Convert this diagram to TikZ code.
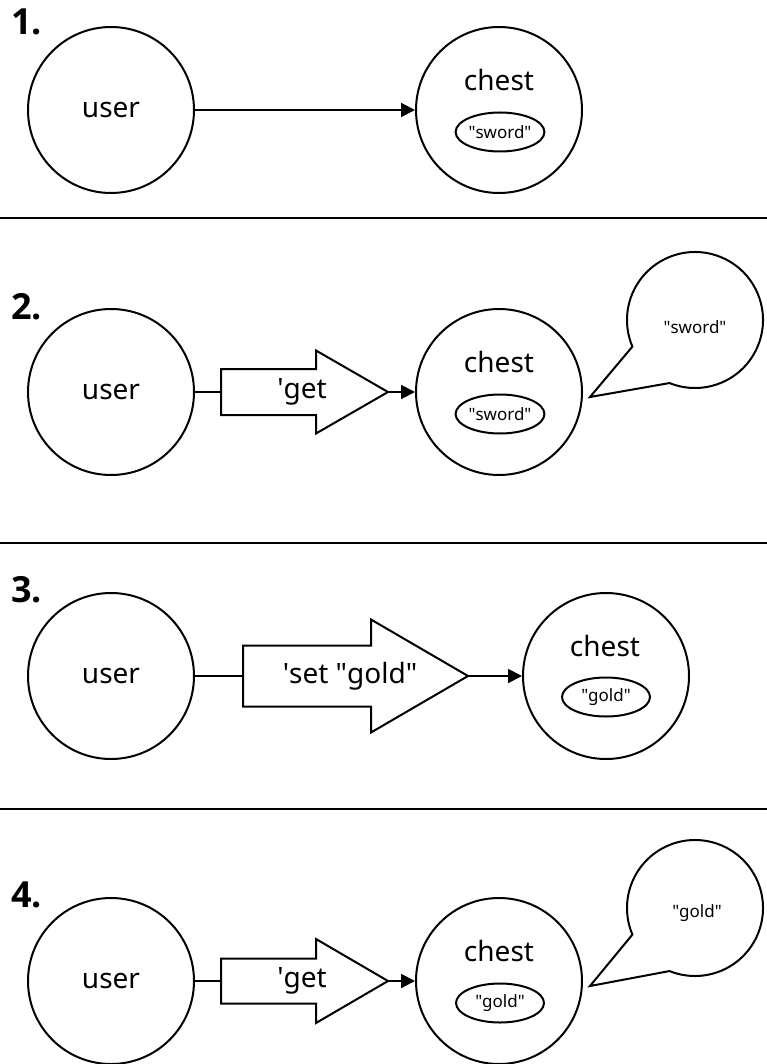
\documentclass[tikz,border=0pt]{standalone}
\usepackage{fontspec}
\setmainfont{Noto Sans}
\newfontfamily\numfont{Open Sans}
\usetikzlibrary{arrows.meta,shapes.geometric}

\tikzset{
  actor/.style={draw,circle,minimum size=166pt,inner sep=0pt,font=\fontsize{28}{34}\selectfont},
  lbl/.style={inner sep=0pt,font=\fontsize{28}{34}\selectfont},
  item/.style={draw,ellipse,minimum width=88pt,minimum height=39pt,inner sep=0pt,font=\fontsize{17}{20}\selectfont},
  said/.style={inner sep=0pt,font=\fontsize{17}{20}\selectfont},
  stepnum/.style={anchor=base west,inner sep=0pt,font=\numfont\bfseries\fontsize{36}{40}\selectfont},
  msg/.style={-{Triangle[length=14pt,width=14pt]}},
  rule/.style={line width=2.5pt}
}
\newcommand\qq[1]{\textquotedbl#1\textquotedbl}

\begin{document}
\begin{tikzpicture}[x=1pt,y=-1pt,line width=2pt]
\useasboundingbox (0,0) rectangle (767,1064);
% 1.
\node[stepnum] at (10,35) {1.};
\node[actor] (user1) at (111,110) {user};
\node[actor] (chest1) at (499,110) {};
\node[lbl] at (499,80) {chest};
\node[item] (item1) at (500,132) {\qq{sword}};
\draw[msg] (user1) -- (chest1);
\draw[rule] (0,218) -- (767,218);
% 2.
\node[stepnum] at (10,319) {2.};
\node[actor] (user2) at (111,392) {user};
\node[actor] (chest2) at (499,392) {};
\node[lbl] at (499,362) {chest};
\node[item] (item2) at (500,414) {\qq{sword}};
\coordinate (tail2) at (221,392);
\coordinate (tip2) at (388,392);
\draw (221,369) -- (316,369) -- (316,350.5) -- (tip2) -- (316,433.5) -- (316,415) -- (221,415) -- cycle;
\node[lbl] (get2) at (302,392) {\textquotesingle get};
\draw (user2) -- (tail2);
\draw[msg] (tip2) -- (chest2);
\coordinate (bub2) at (695,320);
\coordinate (say2) at (590,397);
\draw (bub2) ++(157:68) arc[start angle=157,end angle=472,radius=68] -- (say2) -- cycle;
\node[said] at (695,327) {\qq{sword}};
\draw[rule] (0,543) -- (767,543);
% 3.
\node[stepnum] at (10,602) {3.};
\node[actor] (user3) at (111,676) {user};
\node[actor] (chest3) at (606,676) {};
\node[lbl] at (605,646) {chest};
\node[item] (item3) at (606,697) {\qq{gold}};
\coordinate (tail3) at (243,676);
\coordinate (tip3) at (468,676);
\draw (243,645.5) -- (371,645.5) -- (371,619.5) -- (tip3) -- (371,732.5) -- (371,706.5) -- (243,706.5) -- cycle;
\node[lbl] (set3) at (350,676) {\textquotesingle set \qq{gold}};
\draw (user3) -- (tail3);
\draw[msg] (tip3) -- (chest3);
\draw[rule] (0,809) -- (767,809);
% 4.
\node[stepnum] at (10,907) {4.};
\node[actor] (user4) at (111,981) {user};
\node[actor] (chest4) at (499,981) {};
\node[lbl] at (499,951) {chest};
\node[item] (item4) at (500,1003) {\qq{gold}};
\coordinate (tail4) at (221,981);
\coordinate (tip4) at (388,981);
\draw (221,958.5) -- (316,958.5) -- (316,939) -- (tip4) -- (316,1023) -- (316,1003.5) -- (221,1003.5) -- cycle;
\node[lbl] (get4) at (302,981) {\textquotesingle get};
\draw (user4) -- (tail4);
\draw[msg] (tip4) -- (chest4);
\coordinate (bub4) at (695,908);
\coordinate (say4) at (590,986);
\draw (bub4) ++(157:68) arc[start angle=157,end angle=472,radius=68] -- (say4) -- cycle;
\node[said] at (697,913) {\qq{gold}};
\end{tikzpicture}
\end{document}
